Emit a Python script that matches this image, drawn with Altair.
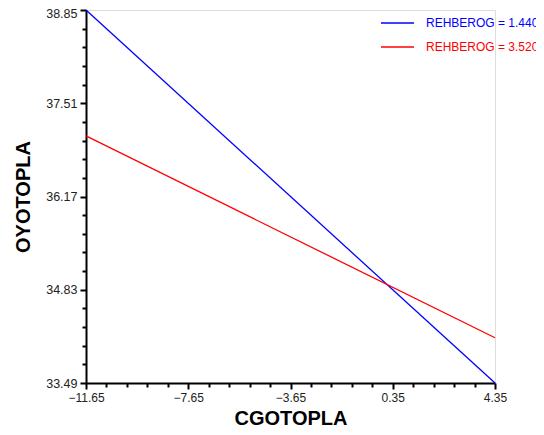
import altair as alt
import pandas as pd

x_vals = [-11.65, 4.35]
blue_y = [38.85, 33.49]
red_y = [37.04, 34.14]
series_blue = "REHBEROG = 1.440"
series_red = "REHBEROG = 3.520"

x_major = [-11.65, -7.65, -3.65, 0.35, 4.35]
y_major = [33.49, 34.83, 36.17, 37.51, 38.85]

def with_minor(major, n=5):
    vals = []
    for i in range(len(major) - 1):
        vals.append(major[i])
        step = (major[i + 1] - major[i]) / n
        for k in range(1, n):
            vals.append(round(major[i] + k * step, 4))
    vals.append(major[-1])
    return vals

x_ticks = with_minor(x_major)
y_ticks = with_minor(y_major)

df_b = pd.DataFrame({"x": x_vals, "y": blue_y, "s": series_blue})
df_r = pd.DataFrame({"x": x_vals, "y": red_y, "s": series_red})

FONT = "Liberation Sans"

def major_test(vals):
    return "indexof([" + ",".join(str(v) for v in vals) + "], datum.value) >= 0"

xaxis = alt.Axis(
    values=x_ticks,
    labelExpr=major_test(x_major) + " ? datum.label : ''",
    tickSize={"condition": {"test": major_test(x_major), "value": 6}, "value": 4},
    grid=False, domainColor="black", domainWidth=2, tickColor="black", tickWidth=2,
    labelFont=FONT, labelFontSize=12, labelColor="#222", labelPadding=3,
    title="CGOTOPLA", titleFont=FONT, titleFontSize=20, titleFontWeight="bold",
    titleColor="black", titlePadding=5, labelOverlap=False, labelFlush=False,
    format=".2f",
)
yaxis = alt.Axis(
    values=y_ticks,
    labelExpr=major_test(y_major) + " ? datum.label : ''",
    tickSize={"condition": {"test": major_test(y_major), "value": 6}, "value": 4},
    labelOffset={"condition": {"test": "datum.value == %s" % y_major[-1], "value": 3}, "value": 0},
    grid=False, domainColor="black", domainWidth=2, tickColor="black", tickWidth=2,
    labelFont=FONT, labelFontSize=12.5, labelColor="#222", labelPadding=3,
    title="OYOTOPLA", titleFont=FONT, titleFontSize=20, titleFontWeight="bold",
    titleColor="black", titlePadding=12, labelOverlap=False, labelFlush=False,
    format=".2f",
)

xs = alt.Scale(domain=[-11.65, 4.35], nice=False, zero=False)
ys = alt.Scale(domain=[33.49, 38.85], nice=False, zero=False)

def layer(df, name, color, ly):
    return alt.Chart(df).mark_line(strokeWidth=1.3, clip=False).encode(
        x=alt.X("x:Q", scale=xs, axis=xaxis),
        y=alt.Y("y:Q", scale=ys, axis=yaxis),
        color=alt.Color("s:N", scale=alt.Scale(domain=[name], range=[color]),
                        legend=alt.Legend(orient="none", legendX=294, legendY=ly,
                                          title=None, symbolType="stroke",
                                          symbolSize=1089, symbolStrokeWidth=1.3,
                                          labelColor=color, labelFont=FONT,
                                          labelFontSize=12, labelOffset=11,
                                          labelLimit=300, padding=0)),
    )

chart = alt.layer(
    layer(df_b, series_blue, "#0000ff", -4.5),
    layer(df_r, series_red, "#ff0000", 19.5),
).resolve_scale(color="independent").properties(
    width=409, height=373,
    autosize=alt.AutoSizeParams(type="none"),
    padding={"left": 78, "top": 2, "right": 41, "bottom": 44},
).configure_view(stroke=None).configure(background="white")

chart.save("out.html", embed_options={"renderer": "svg", "actions": False})
